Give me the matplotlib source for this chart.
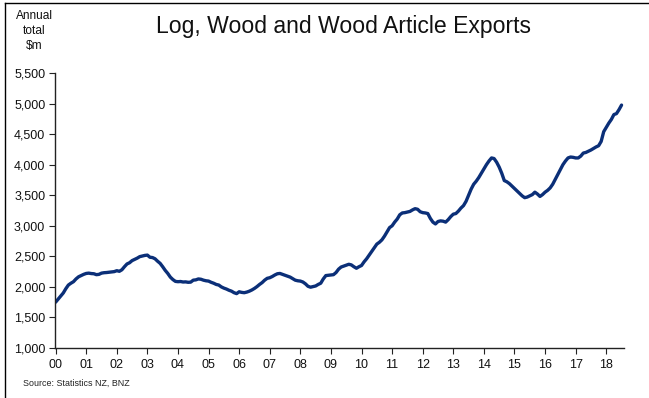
import matplotlib
matplotlib.use("Agg")
import matplotlib.pyplot as plt
from matplotlib.lines import Line2D
import numpy as np

plt.rcParams['font.family'] = ['Liberation Sans', 'DejaVu Sans']

# Annual total exports ($m), monthly readings Jan 2000 - Jul 2018
y2000 = [1750, 1800, 1850, 1900, 1970, 2030, 2060, 2085, 2130, 2165, 2185, 2205]
y2001 = [2220, 2225, 2218, 2215, 2200, 2205, 2225, 2232, 2235, 2240, 2245, 2250]
y2002 = [2265, 2255, 2280, 2330, 2375, 2395, 2430, 2450, 2470, 2495, 2505, 2515]
y2003 = [2520, 2485, 2480, 2460, 2420, 2385, 2330, 2270, 2220, 2160, 2120, 2090]
y2004 = [2085, 2088, 2080, 2082, 2075, 2078, 2110, 2115, 2130, 2125, 2110, 2100]
y2005 = [2095, 2075, 2060, 2040, 2030, 2000, 1980, 1965, 1945, 1930, 1905, 1890]
y2006 = [1920, 1910, 1905, 1915, 1930, 1950, 1975, 2005, 2040, 2070, 2110, 2140]
y2007 = [2150, 2170, 2195, 2215, 2220, 2205, 2190, 2175, 2160, 2135, 2110, 2100]
y2008 = [2095, 2080, 2050, 2010, 1995, 2005, 2015, 2040, 2060, 2130, 2185, 2190]
y2009 = [2195, 2200, 2235, 2290, 2325, 2340, 2355, 2370, 2360, 2330, 2305, 2330]
y2010 = [2350, 2410, 2460, 2520, 2580, 2640, 2700, 2730, 2770, 2830, 2900, 2970]
y2011 = [3000, 3060, 3110, 3180, 3210, 3215, 3225, 3235, 3260, 3280, 3270, 3230]
y2012 = [3215, 3210, 3200, 3120, 3060, 3030, 3070, 3080, 3075, 3060, 3100, 3150]
y2013 = [3190, 3200, 3240, 3290, 3330, 3400, 3500, 3600, 3680, 3730, 3790, 3860]
y2014 = [3930, 4000, 4060, 4110, 4100, 4040, 3960, 3860, 3740, 3720, 3690, 3650]
y2015 = [3610, 3570, 3530, 3490, 3460, 3470, 3490, 3510, 3550, 3520, 3480, 3510]
y2016 = [3550, 3580, 3620, 3680, 3760, 3840, 3920, 4000, 4060, 4110, 4125, 4120]
y2017 = [4110, 4110, 4140, 4190, 4200, 4220, 4240, 4265, 4290, 4310, 4380, 4540]
y2018 = [4610, 4680, 4740, 4820, 4835, 4900, 4975]

series = (y2000 + y2001 + y2002 + y2003 + y2004 + y2005 + y2006 + y2007 + y2008
          + y2009 + y2010 + y2011 + y2012 + y2013 + y2014 + y2015 + y2016
          + y2017 + y2018)

year_labels = ["00", "01", "02", "03", "04", "05", "06", "07", "08", "09",
               "10", "11", "12", "13", "14", "15", "16", "17", "18"]
y_ticks = [1000, 1500, 2000, 2500, 3000, 3500, 4000, 4500, 5000, 5500]

months = np.arange(len(series)) / 12.0

W, H = 649, 398
fig = plt.figure(figsize=(W / 100, H / 100), dpi=100)
ax = fig.add_axes([55 / W, 1 - 348 / H, (624 - 55) / W, (348 - 73) / H])

ax.plot(months, series, color='#0b2f78', lw=2.4, solid_capstyle='round')

ax.set_xlim(-0.02, 18.58)
ax.set_ylim(1000, 5500)
ax.set_xticks(range(len(year_labels)))
ax.set_xticklabels(year_labels)
ax.set_yticks(y_ticks)
ax.set_yticklabels([f"{v:,}" for v in y_ticks])

for s in ['top', 'right']:
    ax.spines[s].set_visible(False)
for s in ['left', 'bottom']:
    ax.spines[s].set_color('#222222')
    ax.spines[s].set_linewidth(1.0)
ax.tick_params(axis='both', direction='out', length=4, width=0.8,
               color='#222222', labelsize=9, labelcolor='#111111')
ax.tick_params(axis='x', pad=4)
ax.tick_params(axis='y', pad=3)

fig.text(344 / W, 1 - 26 / H, "Log, Wood and Wood Article Exports",
         ha='center', va='center', fontsize=16.6, color='#111111')
fig.text(34 / W, 1 - 31 / H, "Annual\ntotal\n$m", ha='center', va='center',
         fontsize=8.6, color='#111111', linespacing=1.3)
fig.text(23 / W, 1 - 383 / H, "Source: Statistics NZ, BNZ", ha='left',
         va='center', fontsize=6.4, color='#222222')

# frame lines along the top and left edges
fig.add_artist(Line2D([5 / W, 1.0], [1 - 3 / H, 1 - 3 / H], color='black', lw=1.0,
                      transform=fig.transFigure))
fig.add_artist(Line2D([5 / W, 5 / W], [0.0, 1 - 3 / H], color='black', lw=1.0,
                      transform=fig.transFigure))

fig.savefig("out.png", dpi=100)
